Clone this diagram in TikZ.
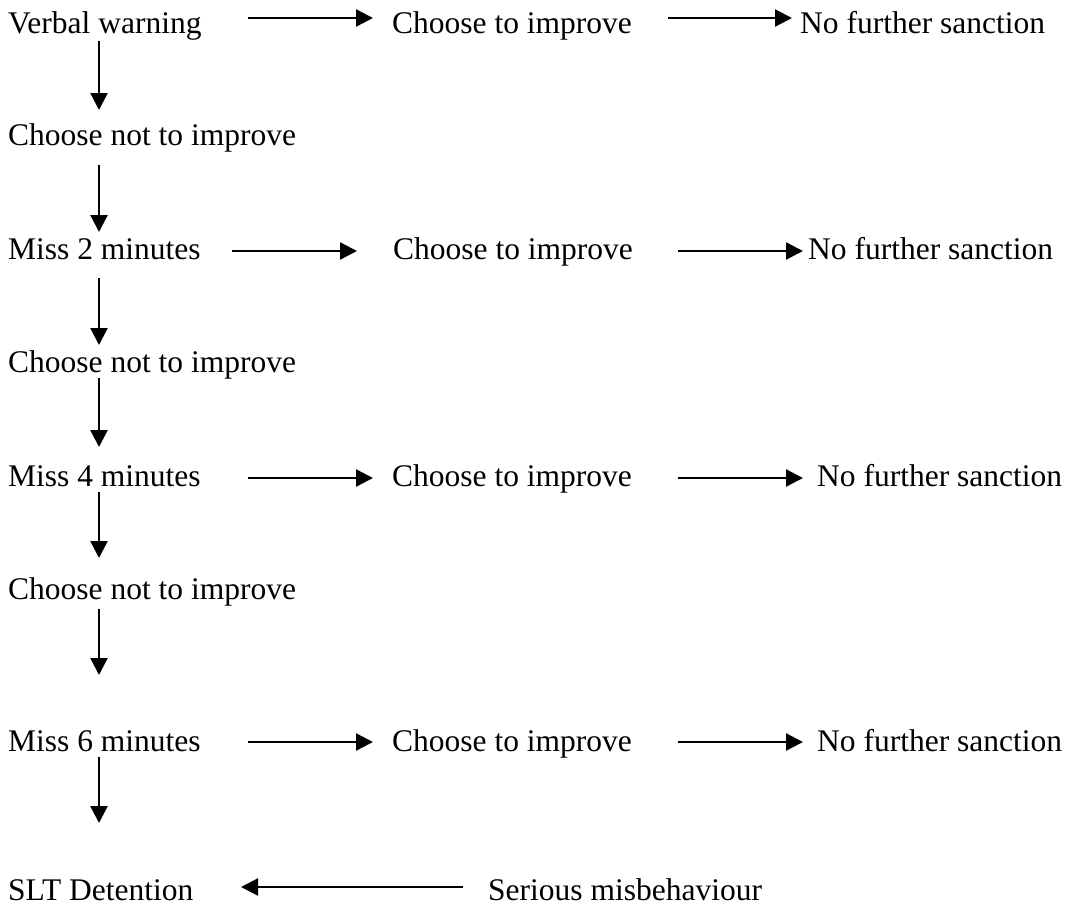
\documentclass[tikz,border=0pt]{standalone}
\usepackage{fontspec}
\setmainfont{Liberation Serif}
\usetikzlibrary{arrows.meta,calc}
\begin{document}
\begin{tikzpicture}[x=1pt,y=-1pt,
  lbl/.style={anchor=base west,inner sep=0pt,font=\fontsize{31.5}{36}\selectfont},
  arr/.style={line width=2.3pt,-{Triangle[length=17pt,width=17pt]}}]
\useasboundingbox[fill=white] (0,0) rectangle (1067,905);
% row 1
\node[lbl] (vw) at (8,33) {Verbal warning};
\node[lbl] (c1) at (392,33) {Choose to improve};
\node[lbl] (n1) at (800,33) {No further sanction};
% row 2
\node[lbl] (k1) at (8,145) {Choose not to improve};
% row 3
\node[lbl] (m2) at (8,259) {Miss 2 minutes};
\node[lbl] (c2) at (393,259) {Choose to improve};
\node[lbl] (n2) at (808,259) {No further sanction};
% row 4
\node[lbl] (k2) at (8,372) {Choose not to improve};
% row 5
\node[lbl] (m4) at (8,486) {Miss 4 minutes};
\node[lbl] (c3) at (392,486) {Choose to improve};
\node[lbl] (n3) at (817,486) {No further sanction};
% row 6
\node[lbl] (k3) at (8,599) {Choose not to improve};
% row 7
\node[lbl] (m6) at (8,751) {Miss 6 minutes};
\node[lbl] (c4) at (392,751) {Choose to improve};
\node[lbl] (n4) at (817,751) {No further sanction};
% row 8
\node[lbl] (slt) at (8,900) {SLT Detention};
\node[lbl] (smb) at (488,900) {Serious misbehaviour};
% horizontal arrows
\draw[arr] ($(vw.base west)+(240,-15)$) -- ($(c1.base west)+(-19,-15)$);
\draw[arr] ($(c1.base west)+(276,-15)$) -- ($(n1.base west)+(-8,-15)$);
\draw[arr] ($(m2.base west)+(224,-8)$) -- ($(c2.base west)+(-36,-8)$);
\draw[arr] ($(c2.base west)+(285,-8)$) -- ($(n2.base west)+(-5,-8)$);
\draw[arr] ($(m4.base west)+(240,-8)$) -- ($(c3.base west)+(-19,-8)$);
\draw[arr] ($(c3.base west)+(286,-8)$) -- ($(n3.base west)+(-14,-8)$);
\draw[arr] ($(m6.base west)+(240,-9)$) -- ($(c4.base west)+(-19,-9)$);
\draw[arr] ($(c4.base west)+(286,-9)$) -- ($(n4.base west)+(-14,-9)$);
\draw[arr] ($(smb.base west)+(-25,-13)$) -- ($(slt.base west)+(233,-13)$);
% vertical arrows
\draw[arr] ($(vw.base west)+(91,8)$) -- ($(k1.base west)+(91,-35)$);
\draw[arr] ($(k1.base west)+(91,20)$) -- ($(m2.base west)+(91,-27)$);
\draw[arr] ($(m2.base west)+(91,19)$) -- ($(k2.base west)+(91,-27)$);
\draw[arr] ($(k2.base west)+(91,6)$) -- ($(m4.base west)+(91,-39)$);
\draw[arr] ($(m4.base west)+(91,6)$) -- ($(k3.base west)+(91,-41)$);
\draw[arr] ($(k3.base west)+(91,10)$) -- ($(m6.base west)+(91,-76)$);
\draw[arr] ($(m6.base west)+(91,6)$) -- ($(slt.base west)+(91,-77)$);
\end{tikzpicture}
\end{document}
